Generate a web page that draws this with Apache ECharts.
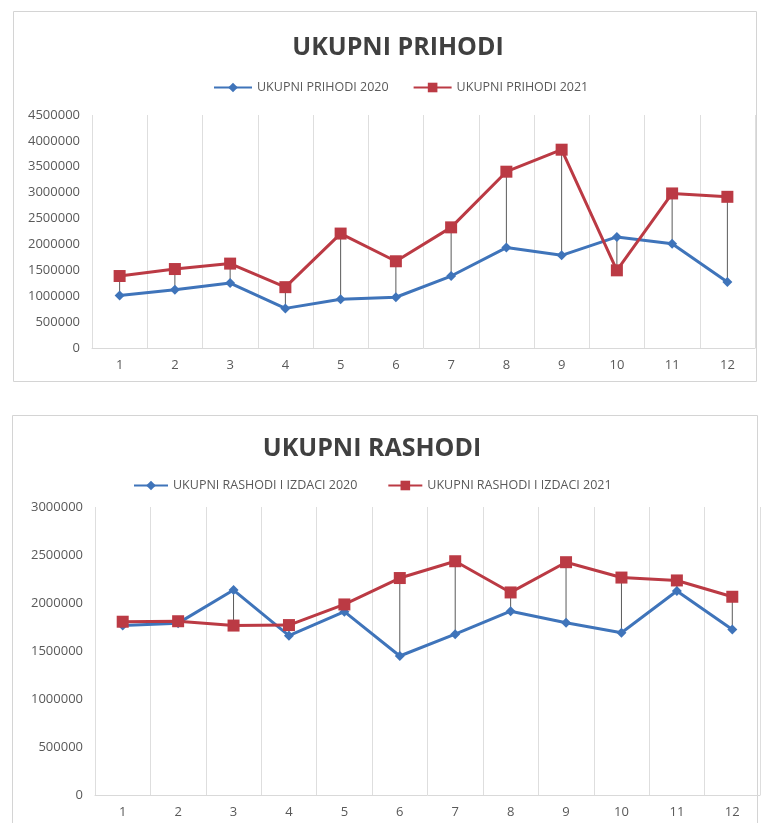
<!DOCTYPE html>
<html>
<head>
<meta charset="utf-8">
<script src="https://cdn.jsdelivr.net/npm/echarts@6/dist/echarts.min.js"></script>
<style>
  html, body { margin: 0; padding: 0; background: #fff; }
  #chart { width: 768px; height: 823px; }
</style>
</head>
<body>
<div id="chart"></div>
<script>
// mjeseci 1..12
var months = ['1', '2', '3', '4', '5', '6', '7', '8', '9', '10', '11', '12'];

// gornji graf - prihodi
var prihodiNames = ['UKUPNI PRIHODI 2020', 'UKUPNI PRIHODI 2021'];
var prihodi2020 = [1015000, 1125000, 1255000, 765000, 940000, 980000, 1390000, 1940000, 1790000, 2145000, 2015000, 1275000];
var prihodi2021 = [1390000, 1525000, 1630000, 1175000, 2210000, 1675000, 2330000, 3405000, 3830000, 1500000, 2985000, 2920000];
var prihodiTicks = { min: 0, max: 4500000, interval: 500000 };

// donji graf - rashodi
var rashodiNames = ['UKUPNI RASHODI I IZDACI 2020', 'UKUPNI RASHODI I IZDACI 2021'];
var rashodi2020 = [1765000, 1790000, 2135000, 1660000, 1910000, 1448000, 1675000, 1915000, 1795000, 1690000, 2125000, 1725000];
var rashodi2021 = [1805000, 1810000, 1765000, 1770000, 1985000, 2260000, 2435000, 2110000, 2425000, 2265000, 2235000, 2065000];
var rashodiTicks = { min: 0, max: 3000000, interval: 500000 };

var blue = '#3f74ba';
var red = '#bb3a44';
var font = '"Open Sans", sans-serif';

var chart = echarts.init(document.getElementById('chart'));

// spojne linije izmedju dvije serije (high-low lines)
function dropLines(a, b) {
    var data = [];
    for (var i = 0; i < a.length; i++) data.push([i, a[i], b[i]]);
    return data;
}
function renderDrop(params, api) {
    var p1 = api.coord([api.value(0), api.value(1)]);
    var p2 = api.coord([api.value(0), api.value(2)]);
    return {
        type: 'line',
        shape: { x1: p1[0], y1: p1[1], x2: p2[0], y2: p2[1] },
        style: { stroke: '#5a5a5a', lineWidth: 1 }
    };
}

function xAxisFor(idx) {
    return {
        type: 'category', gridIndex: idx, data: months, boundaryGap: true,
        axisLine: { lineStyle: { color: '#d9d9d9' } },
        axisTick: { show: false },
        axisLabel: { color: '#595959', fontFamily: font, fontSize: 13, margin: 11 },
        splitLine: { show: true, lineStyle: { color: '#dedede', width: 1 } }
    };
}
function yAxisFor(idx, t) {
    return {
        type: 'value', gridIndex: idx, min: t.min, max: t.max, interval: t.interval,
        axisLine: { show: false }, axisTick: { show: false },
        axisLabel: { color: '#595959', fontFamily: font, fontSize: 13, margin: 12,
                     formatter: function (v) { return String(v); } },
        splitLine: { show: false }
    };
}
function lineSeries(name, idx, data, color, symbol, size) {
    return {
        name: name, type: 'line', xAxisIndex: idx, yAxisIndex: idx, data: data,
        symbol: symbol, symbolSize: size, z: 3,
        lineStyle: { color: color, width: 3 },
        itemStyle: { color: color }
    };
}

var option = {
    animation: false,
    backgroundColor: '#fff',
    graphic: [
        { type: 'rect', shape: { x: 13.5, y: 11.5, width: 743, height: 370 }, style: { fill: 'none', stroke: '#d4d4d4', lineWidth: 1 } },
        { type: 'rect', shape: { x: 12.5, y: 415.5, width: 745, height: 420 }, style: { fill: 'none', stroke: '#d4d4d4', lineWidth: 1 } }
    ],
    title: [
        { text: 'UKUPNI PRIHODI', left: 393, top: 30, textAlign: 'center',
          textStyle: { fontFamily: font, fontSize: 25, fontWeight: 'bold', color: '#404040' } },
        { text: 'UKUPNI RASHODI', left: 367, top: 431, textAlign: 'center',
          textStyle: { fontFamily: font, fontSize: 25, fontWeight: 'bold', color: '#404040' } }
    ],
    legend: [
        { data: prihodiNames, left: 208, top: 76, itemWidth: 38, itemHeight: 12, itemGap: 24,
          textStyle: { fontFamily: font, fontSize: 12.5, color: '#595959' } },
        { data: rashodiNames, left: 128, top: 474, itemWidth: 34, itemHeight: 12, itemGap: 30,
          textStyle: { fontFamily: font, fontSize: 12.5, color: '#595959' } }
    ],
    grid: [
        { left: 92, top: 115, width: 663, height: 233 },
        { left: 95, top: 507, width: 665, height: 288 }
    ],
    xAxis: [xAxisFor(0), xAxisFor(1)],
    yAxis: [yAxisFor(0, prihodiTicks), yAxisFor(1, rashodiTicks)],
    series: [
        { type: 'custom', xAxisIndex: 0, yAxisIndex: 0, renderItem: renderDrop,
          data: dropLines(prihodi2020, prihodi2021), z: 1, silent: true },
        { type: 'custom', xAxisIndex: 1, yAxisIndex: 1, renderItem: renderDrop,
          data: dropLines(rashodi2020, rashodi2021), z: 1, silent: true },
        lineSeries(prihodiNames[0], 0, prihodi2020, blue, 'diamond', 10),
        lineSeries(prihodiNames[1], 0, prihodi2021, red, 'rect', 12),
        lineSeries(rashodiNames[0], 1, rashodi2020, blue, 'diamond', 10),
        lineSeries(rashodiNames[1], 1, rashodi2021, red, 'rect', 12)
    ]
};

chart.setOption(option, true);
</script>
</body>
</html>
